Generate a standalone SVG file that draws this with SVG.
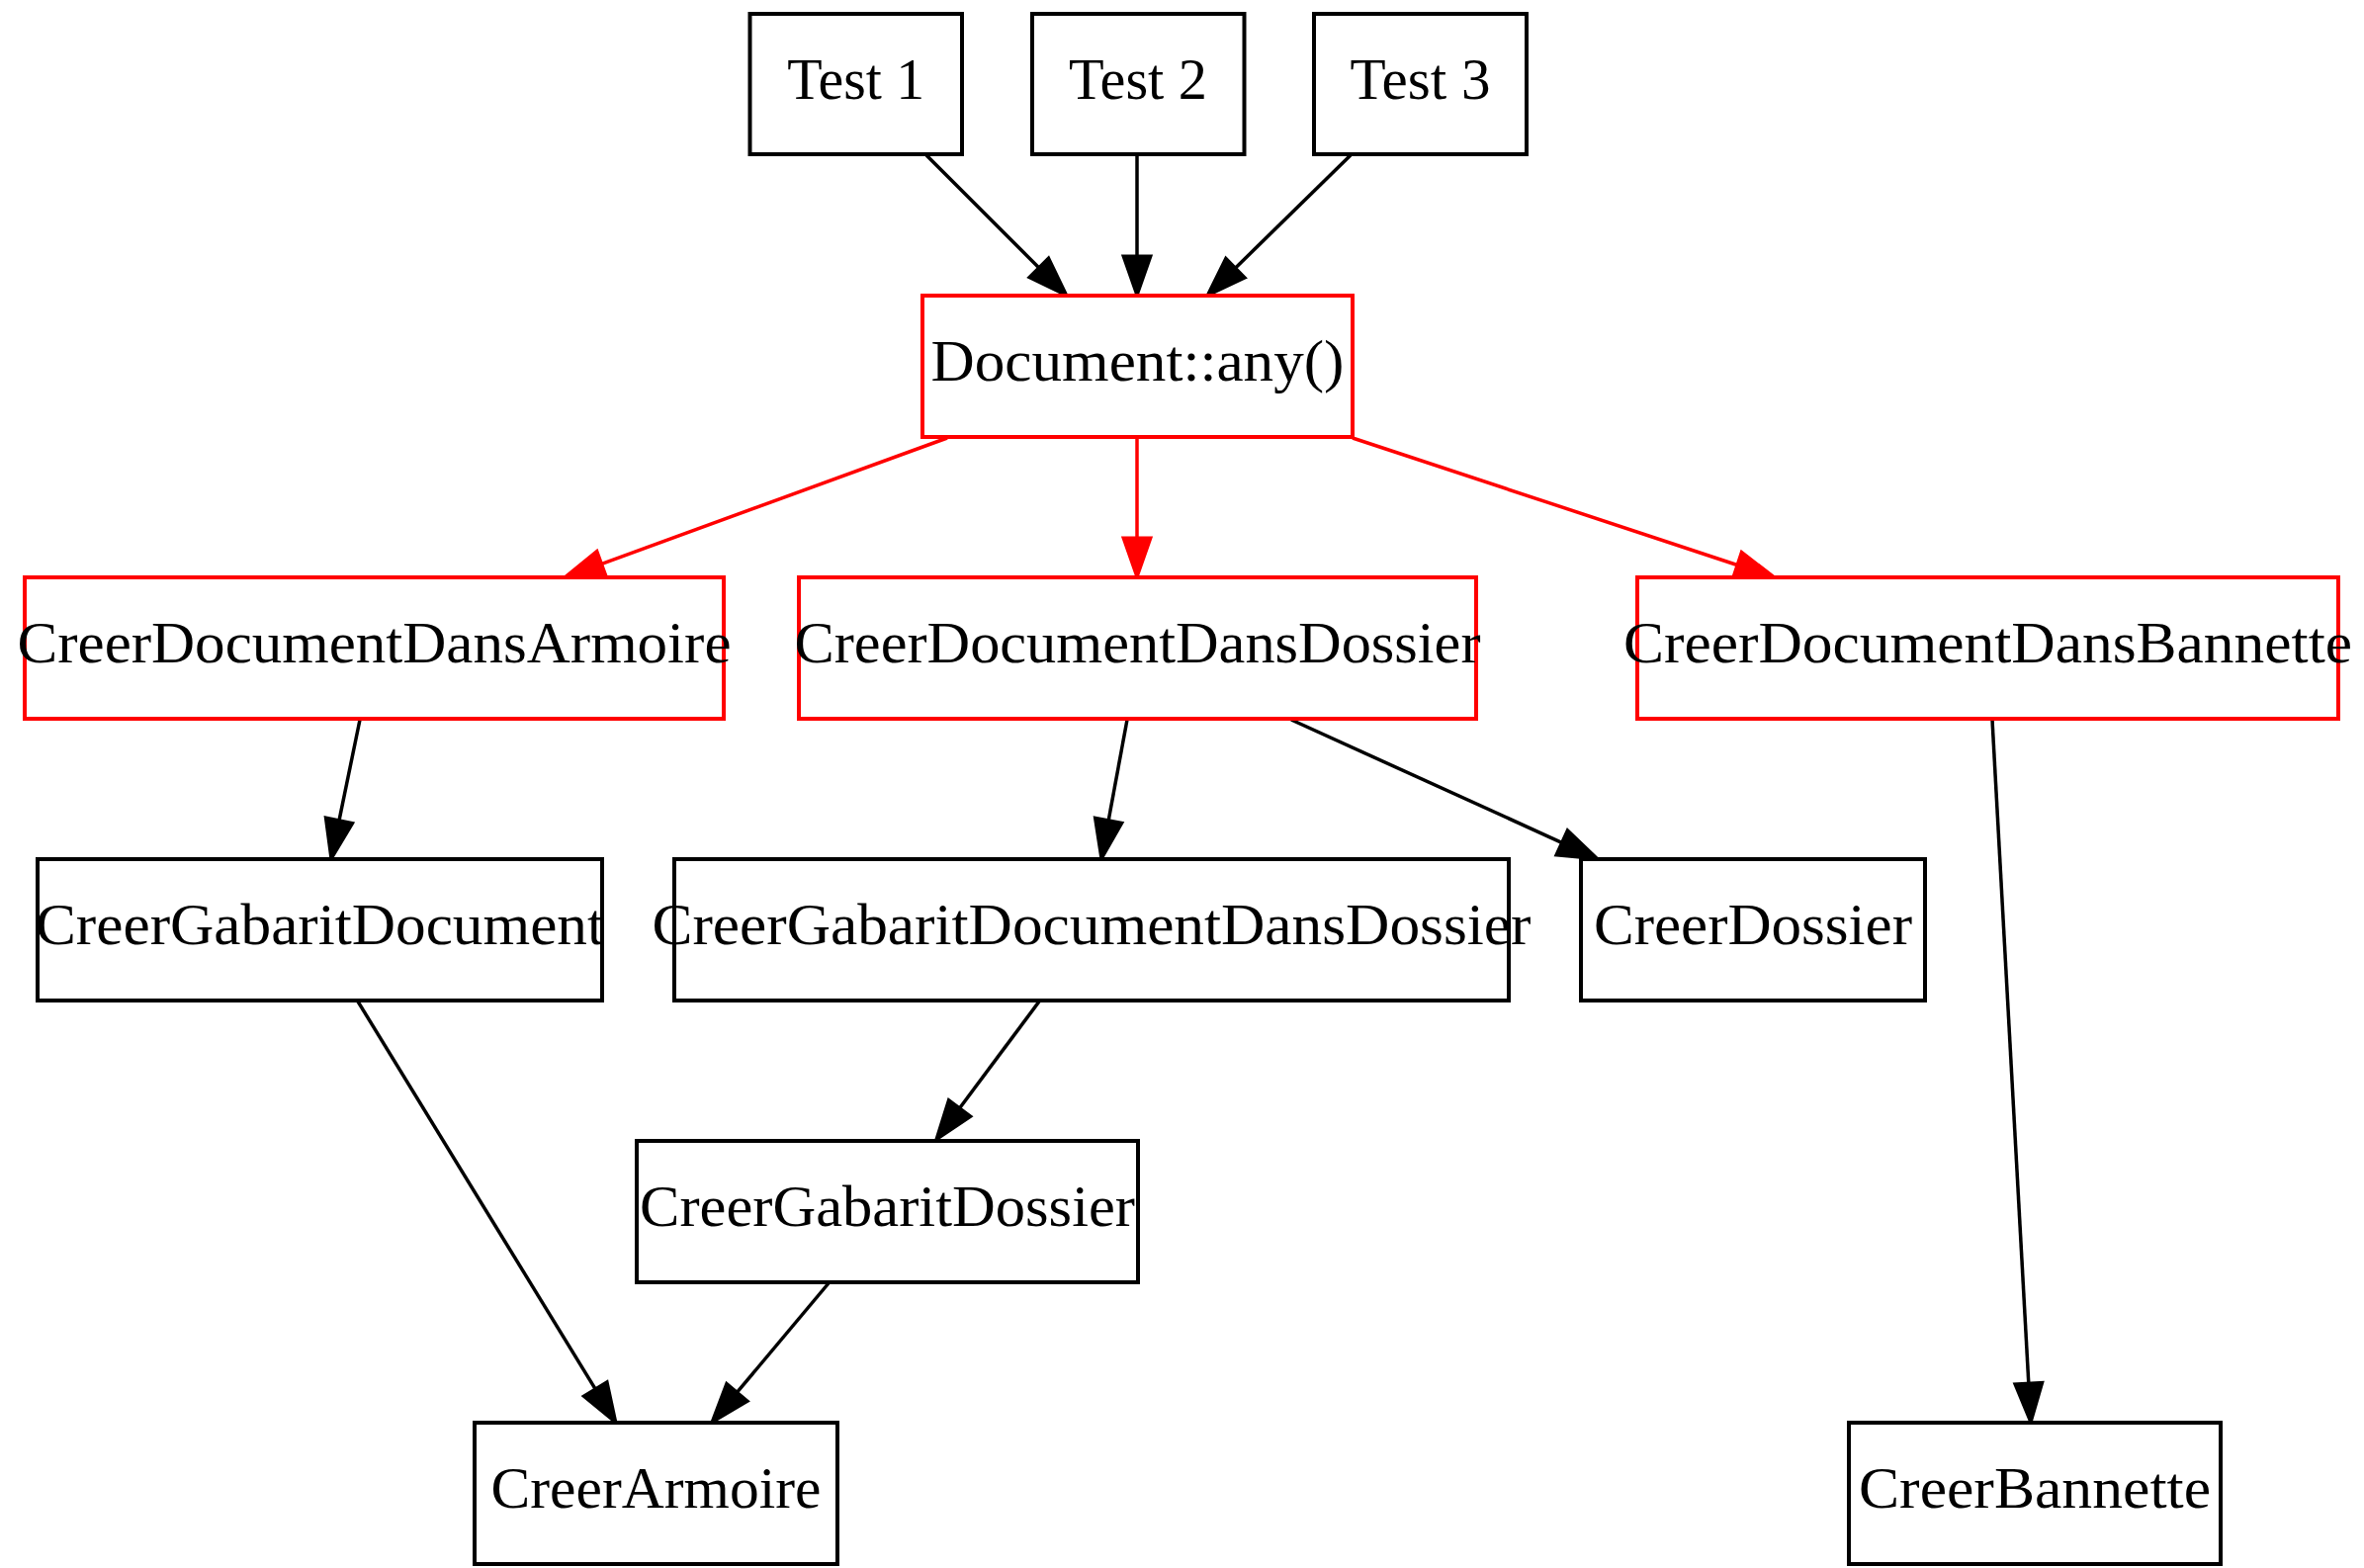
<svg xmlns="http://www.w3.org/2000/svg" width="2391" height="1586" viewBox="0 0 2391 1586">
<style>
.box{fill:#fff;stroke:#000;stroke-width:4}
.red .box{stroke:#f00}
text{font-family:"Liberation Serif","Times New Roman",serif;font-size:60px;text-anchor:middle;fill:#000}
.e{fill:none;stroke:#000;stroke-width:3.5;marker-end:url(#ab)}
.er{fill:none;stroke:#f00;stroke-width:3.5;marker-end:url(#ar)}
</style>
<defs>
<marker id="ab" markerUnits="userSpaceOnUse" markerWidth="44" markerHeight="32" refX="0" refY="0" viewBox="0 -16 44 32" orient="auto" overflow="visible"><path d="M0,-14 L40,0 L0,14 z" fill="#000" stroke="#000" stroke-width="3"/></marker>
<marker id="ar" markerUnits="userSpaceOnUse" markerWidth="44" markerHeight="32" refX="0" refY="0" viewBox="0 -16 44 32" orient="auto" overflow="visible"><path d="M0,-14 L40,0 L0,14 z" fill="#f00" stroke="#f00" stroke-width="3"/></marker>
</defs>
<rect width="2391" height="1586" fill="#fff"/>
<g id="edges">
<path class="e" d="M937,157 L1050.7,270.7"/>
<path class="e" d="M1150,157 L1150,259"/>
<path class="e" d="M1366,157 L1249.6,271"/>
<path class="er" d="M958,443 L608.6,570.3"/>
<path class="er" d="M1150,443 L1150,544"/>
<path class="er" d="M1368,443 L1757,571.5"/>
<path class="e" d="M364,728 L343,829.8"/>
<path class="e" d="M1140,728 L1121.2,829.7"/>
<path class="e" d="M1306,728 L1579.6,852.3"/>
<path class="e" d="M2015,728 L2051.8,1399.1"/>
<path class="e" d="M362,1013 L602.1,1404.9"/>
<path class="e" d="M1051,1013 L970.7,1120.8"/>
<path class="e" d="M838,1298 L745.6,1408.2"/>
</g>
<g id="test1"><rect class="box" x="758.5" y="14" width="214.5" height="142"/><text x="865.7" y="100" textLength="139" lengthAdjust="spacingAndGlyphs">Test 1</text></g>
<g id="test2"><rect class="box" x="1044" y="14" width="214.5" height="142"/><text x="1151" y="100" textLength="140" lengthAdjust="spacingAndGlyphs">Test 2</text></g>
<g id="test3"><rect class="box" x="1329" y="14" width="215" height="142"/><text x="1436.5" y="100" textLength="142" lengthAdjust="spacingAndGlyphs">Test 3</text></g>
<g id="document_any" class="red"><rect class="box" x="933" y="299" width="435" height="143"/><text x="1150.5" y="385" textLength="418" lengthAdjust="spacingAndGlyphs">Document::any()</text></g>
<g id="CreerDocumentDansArmoire" class="red"><rect class="box" x="25" y="584" width="707" height="143"/><text x="378.5" y="670" textLength="722" lengthAdjust="spacingAndGlyphs">CreerDocumentDansArmoire</text></g>
<g id="CreerDocumentDansDossier" class="red"><rect class="box" x="808" y="584" width="685" height="143"/><text x="1150.5" y="670" textLength="694" lengthAdjust="spacingAndGlyphs">CreerDocumentDansDossier</text></g>
<g id="CreerDocumentDansBannette" class="red"><rect class="box" x="1656" y="584" width="709" height="143"/><text x="2010.5" y="670" textLength="737" lengthAdjust="spacingAndGlyphs">CreerDocumentDansBannette</text></g>
<g id="CreerGabaritDocument"><rect class="box" x="38" y="869" width="571" height="143"/><text x="323.5" y="955" textLength="575" lengthAdjust="spacingAndGlyphs">CreerGabaritDocument</text></g>
<g id="CreerGabaritDocumentDansDossier"><rect class="box" x="682" y="869" width="844" height="143"/><text x="1104" y="955" textLength="889" lengthAdjust="spacingAndGlyphs">CreerGabaritDocumentDansDossier</text></g>
<g id="CreerDossier"><rect class="box" x="1599" y="869" width="348" height="143"/><text x="1773" y="955" textLength="322" lengthAdjust="spacingAndGlyphs">CreerDossier</text></g>
<g id="CreerGabaritDossier"><rect class="box" x="644" y="1154" width="507" height="143"/><text x="897.5" y="1240" textLength="501" lengthAdjust="spacingAndGlyphs">CreerGabaritDossier</text></g>
<g id="CreerArmoire"><rect class="box" x="480" y="1439" width="367" height="143"/><text x="663.5" y="1525" textLength="334" lengthAdjust="spacingAndGlyphs">CreerArmoire</text></g>
<g id="CreerBannette"><rect class="box" x="1870" y="1439" width="376" height="143"/><text x="2058" y="1525" textLength="356" lengthAdjust="spacingAndGlyphs">CreerBannette</text></g>
</svg>
